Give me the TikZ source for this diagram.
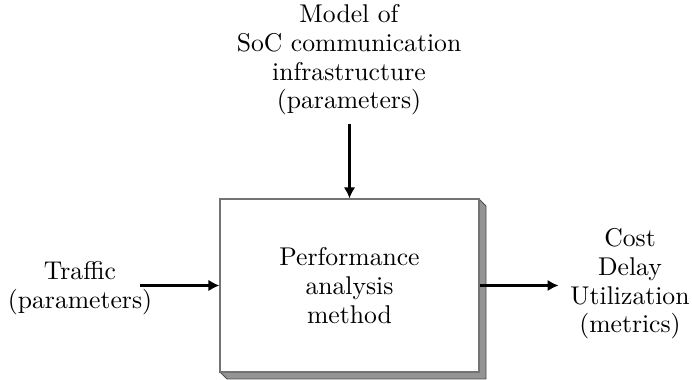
\documentclass[tikz,border=0pt]{standalone}
\usepackage{fontspec}
\usepackage{tikz}
\usetikzlibrary{
    arrows.meta,
    calc,
    positioning
}
\newfontfamily\lblfont{lmroman10-regular.otf}

\begin{document}
\begin{tikzpicture}[scale=1,
    lbl/.style={align=center, font=\lblfont\fontsize{14.6}{16.3}\selectfont},
    blk/.style={draw=black!55, fill=white, line width=0.6pt,
        minimum width=5.18cm, minimum height=3.46cm, align=center,
        font=\lblfont\fontsize{14.6}{16.3}\selectfont},
    flow/.style={line width=1.5pt, -{Latex[length=2.2mm,width=2.3mm]}}
]
\useasboundingbox (0,0) rectangle (13.84,7.6);

% Shadow behind the block
\filldraw[fill=black!42, draw=black!70, line width=0.5pt]
    (9.58,3.62) -- (9.72,3.48) -- (9.72,0.02) -- (4.54,0.02) -- (4.40,0.16) -- cycle;

% Block
\node[blk] (perf) at (6.99,1.89) {Performance\\analysis\\method};

% Inputs and outputs
\node[lbl] (model) at (6.98,6.4) {Model of\\SoC communication\\infrastructure\\(parameters)};
\node[lbl] (traffic) at (1.6,1.84) {Traffic\\(parameters)};
\node[lbl] (metrics) at (12.6,1.92) {Cost\\Delay\\Utilization\\(metrics)};

\coordinate (tin) at ($(perf.west)+(-1.58,0)$);
\coordinate (tout) at ($(perf.east)+(1.58,0)$);

% Arrows
\draw[flow] (model.south -| perf.north) ++(0,-0.05) -- (perf.north);
\draw[flow] (tin) -- (perf.west);
\draw[flow] (perf.east) -- (tout);
\end{tikzpicture}
\end{document}
